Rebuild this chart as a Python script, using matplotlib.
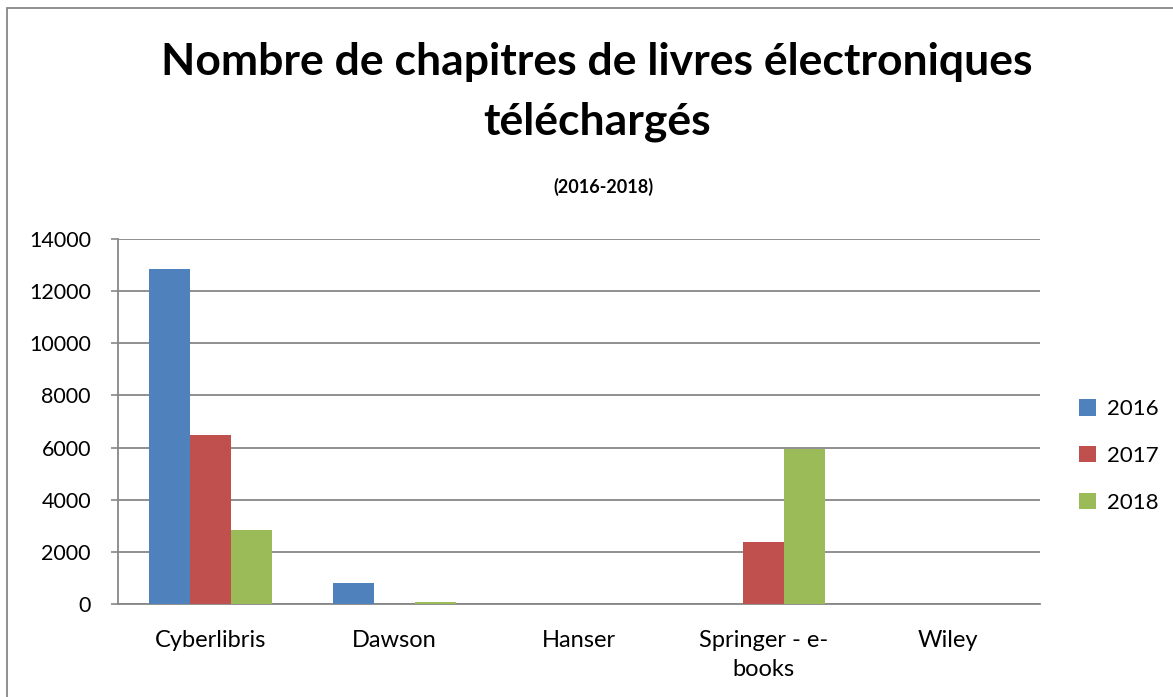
import numpy as np
import matplotlib
matplotlib.use('Agg')
import matplotlib.pyplot as plt
from matplotlib.patches import Rectangle

# data
categories = ["Cyberlibris", "Dawson", "Hanser", "Springer - e-\nbooks", "Wiley"]
years = ["2016", "2017", "2018"]
v2016 = [12840, 790, 0, 0, 0]
v2017 = [6480, 10, 0, 2370, 0]
v2018 = [2840, 60, 15, 5960, 0]
colors = ["#4F81BD", "#C0504D", "#9BBB59"]

plt.rcParams['font.family'] = ['Lato', 'DejaVu Sans']

fig = plt.figure(figsize=(11.73, 6.97), dpi=100)
ax = fig.add_axes([118/1173, 93/697, 922/1173, 365/697])

x = np.arange(len(categories))
w = 0.222
for i, (vals, c, lab) in enumerate(zip([v2016, v2017, v2018], colors, years)):
    ax.bar(x + (i - 1) * w, vals, width=w, color=c, label=lab, zorder=3)

ax.set_xlim(-0.5, len(categories) - 0.5)
ax.set_ylim(0, 14000)
ax.set_yticks(np.arange(0, 14001, 2000))
ax.set_xticks(x)
ax.set_xticklabels(categories, fontsize=17, linespacing=1.45)
ax.tick_params(axis='y', labelsize=15.5, length=5, width=1.2, color='#878787', pad=14.5)
ax.tick_params(axis='x', length=0, pad=19)
ax.yaxis.grid(True, color='#878787', linewidth=1.3, zorder=0)
for s in ['top', 'right']:
    ax.spines[s].set_visible(False)
for s in ['left', 'bottom']:
    ax.spines[s].set_color('#878787')
    ax.spines[s].set_linewidth(1.3)

leg = fig.legend(loc='center left', bbox_to_anchor=(1059/1173, 1 - 456/697), frameon=False,
                 fontsize=16, handlelength=0.75, handleheight=0.75, labelspacing=1.2, handletextpad=0.5)

fig.text(597/1173, 1 - 62/697, "Nombre de chapitres de livres électroniques", ha='center', va='center',
         fontsize=32, fontweight='bold')
fig.text(597/1173, 1 - 122/697, "téléchargés", ha='center', va='center', fontsize=32, fontweight='bold')
fig.text(603/1173, 1 - 187/697, "(2016-2018)", ha='center', va='center', fontsize=13, fontweight='bold')

fig.patches.append(Rectangle((7/1173, -0.02), 1.1, (697 - 8)/697 + 0.02, transform=fig.transFigure,
                             fill=False, edgecolor='#878787', linewidth=1.3))

fig.savefig("out.png", dpi=100)
